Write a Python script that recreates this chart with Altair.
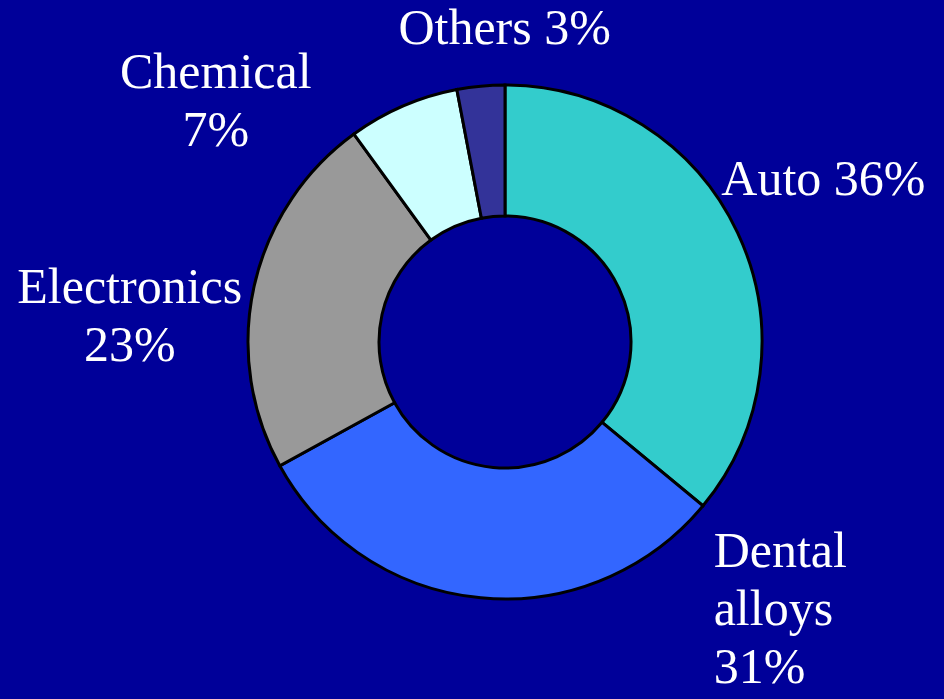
import altair as alt
import pandas as pd

categories = ["Auto", "Dental alloys", "Electronics", "Chemical", "Others"]
shares = [36, 31, 23, 7, 3]
labels = ["Auto 36%", "Dental\nalloys\n31%", "Electronics\n23%", "Chemical\n7%", "Others 3%"]
colors = ["#33CCCC", "#3366FF", "#999999", "#CCFFFF", "#333399"]
title_text = "Key applications"

df = pd.DataFrame({
    "category": categories,
    "share": shares,
    "label": labels,
    "order": list(range(len(categories))),
})

TWO_PI = 6.283185307179586
theta_scale = alt.Scale(domain=[0, 100], range=[0, TWO_PI])
FONT = "Liberation Serif"

base = alt.Chart(df)

arcs = base.mark_arc(innerRadius=126, outerRadius=257, stroke="black", strokeWidth=3).encode(
    theta=alt.Theta("share:Q", stack=True, scale=theta_scale),
    color=alt.Color("category:N", scale=alt.Scale(domain=categories, range=colors), legend=None),
    order=alt.Order("order:Q"),
)

# per-label placement: (align, dx, dy)
placement = {
    "Auto": ("left", -37, -28),
    "Dental alloys": ("left", 235, -54),
    "Electronics": ("center", -102, 22),
    "Chemical": ("center", -178, 3),
    "Others": ("center", 26, -19),
}

text_layers = []
for cat in categories:
    align, dx, dy = placement[cat]
    t = (
        base.transform_window(cum="sum(share)", sort=[alt.SortField("order")], frame=[None, 0])
        .transform_calculate(mid="datum.cum - datum.share / 2")
        .transform_filter(alt.datum.category == cat)
        .mark_text(
            radius=280, align=align, baseline="alphabetic", dx=dx, dy=dy,
            font=FONT, fontSize=50, color="white", lineBreak="\n", lineHeight=58,
        )
        .encode(
            theta=alt.Theta("mid:Q", scale=theta_scale),
            text="label:N",
        )
    )
    text_layers.append(t)

chart = (
    alt.layer(arcs, *text_layers)
    .properties(
        width=878,
        height=684,
        padding={"left": 66, "top": 0, "right": 0, "bottom": 15},
        autosize="none",
        background="#000099",
        title=alt.TitleParams(
            title_text, anchor="start", frame="group", font=FONT, fontSize=50,
            fontWeight="normal", color="white", baseline="alphabetic", offset=-35, dx=-24,
        ),
    )
    .configure_view(stroke=None)
)

chart.save("out.html", embed_options={"renderer": "svg", "actions": False})
